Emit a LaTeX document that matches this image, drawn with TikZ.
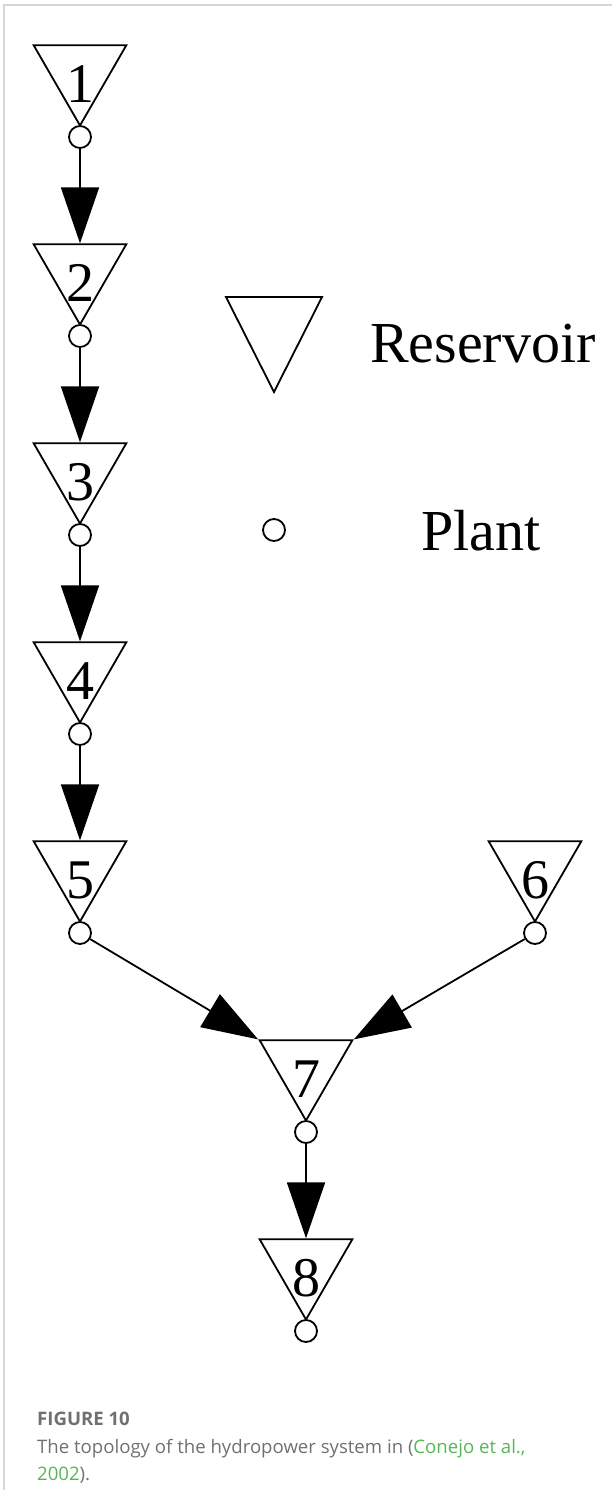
\documentclass[tikz,border=0pt]{standalone}
\usepackage{fontspec}
\setmainfont{Liberation Serif}
\newfontfamily\capfont{Open Sans}
\usetikzlibrary{shapes.geometric,arrows.meta}
\definecolor{framegray}{RGB}{214,214,214}
\definecolor{capgray}{RGB}{112,112,112}
\definecolor{citegreen}{RGB}{86,182,86}
\tikzset{
    reservoir/.style={draw, regular polygon, regular polygon sides=3,
        shape border rotate=180, minimum size=107pt, inner sep=0pt, line width=1.8pt},
    plant/.style={draw, circle, fill=white, minimum size=22pt, inner sep=0pt, line width=1.8pt},
    num/.style={font=\fontsize{56}{56}\selectfont, inner sep=0pt, yshift=-12pt},
    legtext/.style={anchor=base west, inner sep=0pt, font=\fontsize{58}{58}\selectfont},
    captext/.style={anchor=base west, inner sep=0pt, text=capgray, font=\capfont\fontsize{18.6}{18.6}\selectfont},
    flow/.style={line width=1.8pt, -{Triangle[length=56pt,width=38pt]}}
}
\begin{document}
\begin{tikzpicture}[x=1pt,y=-1pt]
    \useasboundingbox (0,0) rectangle (612,1490);
    \draw[framegray, line width=1.5pt] (4,1490) -- (4,5) -- (612,5);
    \foreach \i/\x/\y in {1/80/72, 2/80/271, 3/80/470, 4/80/669, 5/80/868,
        6/535/868, 7/306/1067, 8/306/1266}
    {
        \node[reservoir] (r\i) at (\x,\y) {};
        \node[num] (n\i) at (r\i) {\i};
        \node[plant] (p\i) at (\x,\y+65) {};
    }
    \foreach \a/\b in {1/2, 2/3, 3/4, 4/5, 7/8}
        \draw[flow] (p\a) -- (r\b.north);
    \draw[flow] (p5) -- (r7.corner 3);
    \draw[flow] (p6) -- (r7.corner 2);
    % legend
    \draw[line width=1.8pt] (226,297) -- (322,297) -- (274,392) -- cycle;
    \node[legtext] (lres) at (370,362) {Reservoir};
    \node[plant] (lplant) at (274,530) {};
    \node[legtext] (lplanttext) at (421,550) {Plant};
    % caption
    \node[captext, font=\capfont\bfseries\fontsize{18.6}{18.6}\selectfont] (fig) at (37,1425) {FIGURE 10};
    \node[captext] (cap1) at (37,1453) {The topology of the hydropower system in (\textcolor{citegreen}{Conejo et al.,}};
    \node[captext] (cap2) at (37,1480) {\textcolor{citegreen}{2002}).};
\end{tikzpicture}
\end{document}
